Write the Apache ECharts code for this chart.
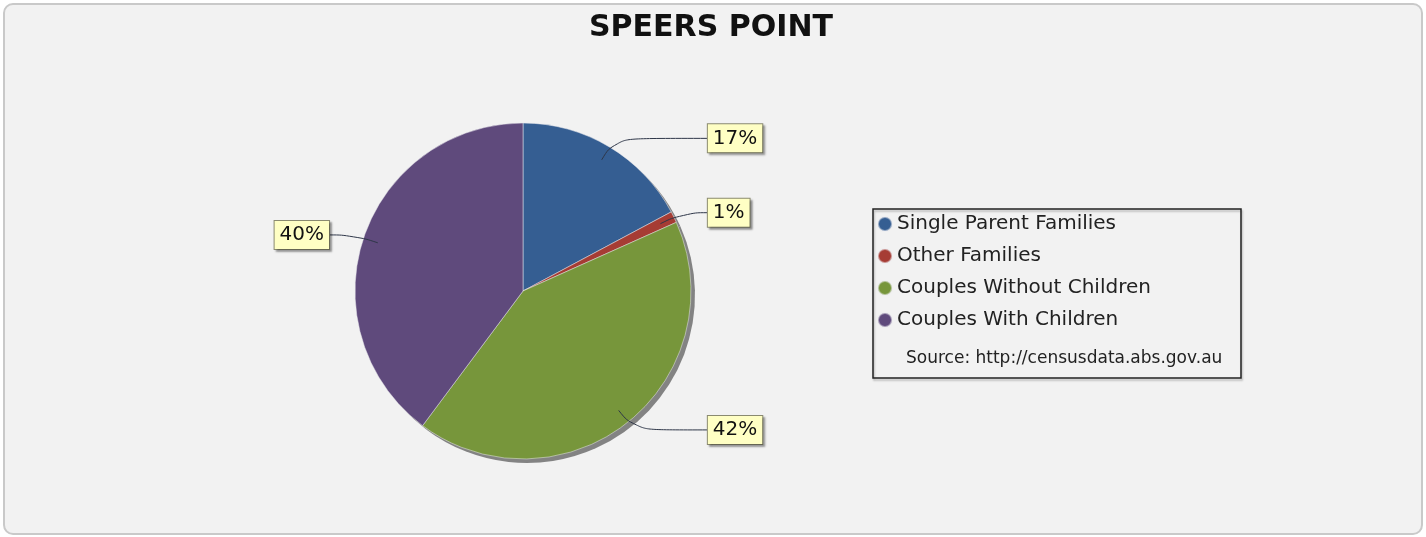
<!DOCTYPE html>
<html>
<head>
<meta charset="utf-8">
<script src="https://cdn.jsdelivr.net/npm/echarts@6/dist/echarts.min.js"></script>
<style>
  html, body { margin: 0; padding: 0; background: #fff; }
  #frame {
    position: absolute; left: 3px; top: 3px; width: 1416px; height: 528px;
    border: 2px solid #c9c9c9; border-radius: 10px; background: #f2f2f2;
  }
  #chart { position: absolute; left: 0; top: 0; width: 1426px; height: 537px; }
</style>
</head>
<body>
<div id="frame"></div>
<div id="chart"></div>
<script>
const categories = ['Single Parent Families', 'Other Families', 'Couples Without Children', 'Couples With Children']
const shares = [17.2, 1.1, 41.9, 39.8]
const colors = ['#355e92', '#a63c34', '#77963b', '#5f4a7c']
const chartTitle = 'SPEERS POINT'
const sourceNote = 'Source: http://censusdata.abs.gov.au'

const pieData = categories.map((name, i) => ({ name, value: shares[i] }))
const center = [523, 291]
const radius = 168

const chart = echarts.init(document.getElementById('chart'))
chart.setOption({
  animation: false,
  color: colors,
  title: {
    text: chartTitle,
    left: 584,
    top: 8,
    textStyle: { fontFamily: 'DejaVu Sans', fontWeight: 'bold', fontSize: 30, color: '#111' }
  },
  legend: {
    data: categories,
    orient: 'vertical',
    left: 877,
    top: 213,
    padding: 0,
    icon: 'circle',
    itemWidth: 14,
    itemHeight: 14,
    itemGap: 10,
    selectedMode: false,
    textStyle: { fontFamily: 'DejaVu Sans', fontSize: 20, lineHeight: 22, color: '#222' }
  },
  graphic: [
    {
      type: 'rect',
      shape: { x: 873, y: 209, width: 368, height: 169 },
      style: {
        fill: 'rgba(0,0,0,0)', stroke: '#222', lineWidth: 1.5,
        shadowColor: 'rgba(0,0,0,0.25)', shadowOffsetX: 1, shadowOffsetY: 2, shadowBlur: 2
      }
    },
    {
      type: 'text',
      x: 906,
      y: 359,
      style: { text: sourceNote, font: '17px "DejaVu Sans"', fill: '#222', verticalAlign: 'middle' }
    }
  ],
  series: [
    {
      type: 'pie',
      name: 'slices',
      center,
      radius,
      data: pieData,
      silent: true,
      z: 3,
      label: { show: false },
      labelLine: { show: false },
      itemStyle: { borderColor: 'rgba(235,235,240,0.5)', borderWidth: 1 }
    },
    {
      // drop shadow under the pie
      type: 'pie',
      name: 'shadow',
      center: [center[0] + 4, center[1] + 4],
      radius,
      data: pieData,
      silent: true,
      z: 2,
      label: { show: false },
      labelLine: { show: false },
      itemStyle: { color: '#838383' }
    },
    {
      // labels only, lines start inside the slices
      type: 'pie',
      name: 'labels',
      center,
      radius: 153,
      data: pieData,
      silent: true,
      z: 4,
      percentPrecision: 0,
      itemStyle: { color: 'rgba(0,0,0,0)' },
      label: {
        formatter: '{d}%',
        fontFamily: 'DejaVu Sans',
        fontSize: 20,
        color: '#111',
        backgroundColor: '#ffffc4',
        borderColor: '#8a8a70',
        borderWidth: 1,
        padding: [4, 5, 4, 5],
        shadowColor: 'rgba(0,0,0,0.3)',
        shadowOffsetX: 2,
        shadowOffsetY: 2,
        shadowBlur: 2,
        alignTo: 'labelLine',
        distanceToLabelLine: 0
      },
      labelLine: {
        length: 25,
        length2: 25,
        smooth: 0.5,
        lineStyle: { color: '#2e3648', width: 1 }
      }
    }
  ]
})
</script>
</body>
</html>
